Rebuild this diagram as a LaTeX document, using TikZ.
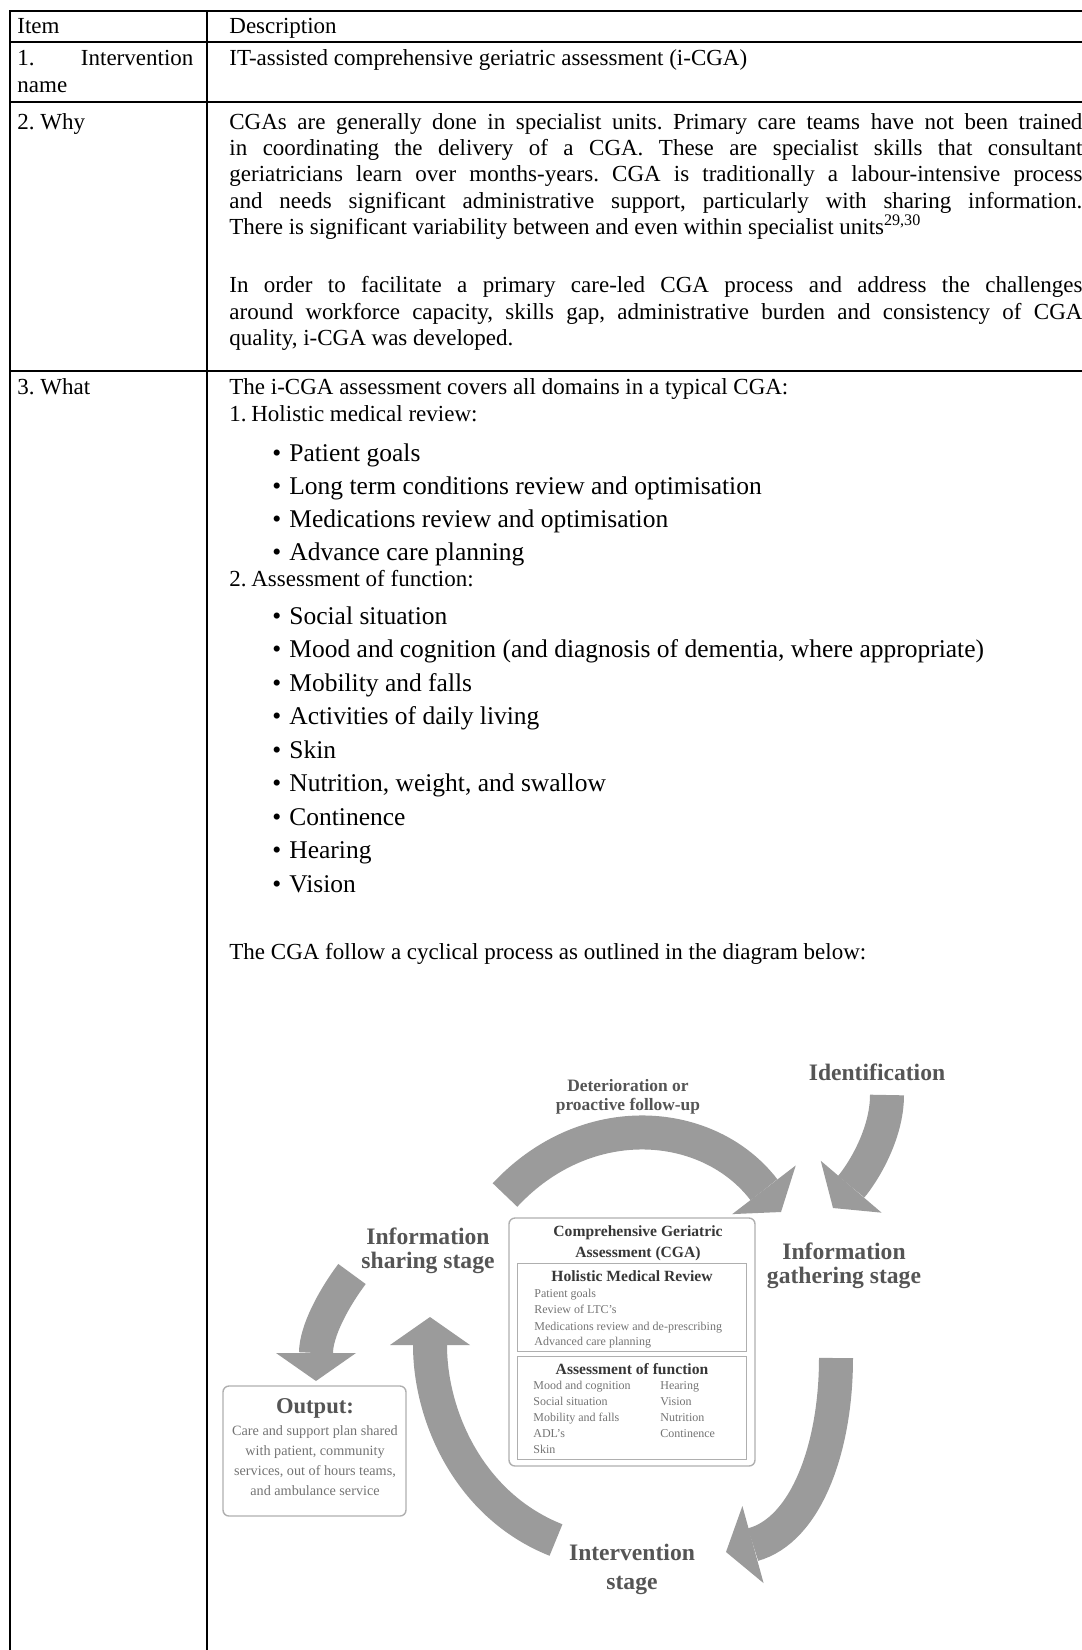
\documentclass[tikz,border=0pt]{standalone}
\usepackage{fontspec}
\setmainfont{Liberation Serif}
\usetikzlibrary{arrows.meta}
\frenchspacing
\definecolor{ArrowGray}{RGB}{155,155,155}
\definecolor{LabelGray}{RGB}{85,85,85}
\definecolor{TitleGray}{RGB}{55,55,55}
\definecolor{ItemGray}{RGB}{115,115,115}
\definecolor{BoxGray}{RGB}{175,175,175}

\tikzset{
  rule/.style={line width=1.1pt, black, line cap=rect},
  cell/.style={anchor=base west, inner sep=0pt, font=\fontsize{11.5}{13.2}\selectfont},
  bulletcell/.style={anchor=base west, inner sep=0pt, font=\fontsize{12.75}{14}\selectfont},
  stage/.style={align=center, inner sep=0pt, text=LabelGray, font=\fontsize{11.8}{12.2}\selectfont\bfseries},
  smallstage/.style={align=center, inner sep=0pt, text=LabelGray, font=\fontsize{8.7}{9.5}\selectfont\bfseries},
  panel/.style={draw=BoxGray, line width=0.7pt, rounded corners=3pt, inner sep=0pt},
  subpanel/.style={draw=BoxGray, line width=0.5pt, inner sep=0pt},
  paneltitle/.style={align=center, inner sep=0pt, text=TitleGray, font=\fontsize{7.8}{10.5}\selectfont\bfseries},
  panelitem/.style={anchor=base west, inner sep=0pt, text=ItemGray, font=\fontsize{6}{8}\selectfont},
  outtitle/.style={inner sep=0pt, text=LabelGray, font=\fontsize{11.3}{12}\selectfont\bfseries},
  outtext/.style={align=center, inner sep=0pt, text=ItemGray, font=\fontsize{7.1}{10}\selectfont},
  cyclearrow/.style={draw=ArrowGray, line width=17pt,
    -{Triangle[length=14pt 0 0, width=40pt 0 0, line width=0pt]}},
}

\begin{document}
\begin{tikzpicture}[x=0.5pt, y=-0.5pt]
    \useasboundingbox (0,0) rectangle (1082,1650);

    % Table rules
    \foreach \ry in {11,42,102,371}
      \draw[rule] (10,\ry) -- (1082,\ry);
    \draw[rule] (10,11) -- (10,1650);
    \draw[rule] (207,11) -- (207,1650);

    % Header row
    \node[cell] (itemhead) at (17,33) {Item};
    \node[cell] (deschead) at (229,33) {Description};

    % Row 1
    \node[cell] (rowonea) at (17,65) {\makebox[88pt][s]{1. Intervention}};
    \node[cell] (rowoneb) at (17,92) {name};
    \node[cell] (rowonedesc) at (229,65) {IT-assisted comprehensive geriatric assessment (i-CGA)};

    % Row 2
    \node[cell] (rowtwo) at (17,129) {2. Why};
    \foreach \ly/\txt [count=\i] in {
        129/{CGAs are generally done in specialist units. Primary care teams have not been trained},
        155.4/{in coordinating the delivery of a CGA. These are specialist skills that consultant},
        181.8/{geriatricians learn over months-years. CGA is traditionally a labour-intensive process},
        208.2/{and needs significant administrative support, particularly with sharing information.},
        292.8/{In order to facilitate a primary care-led CGA process and address the challenges},
        319.2/{around workforce capacity, skills gap, administrative burden and consistency of CGA}}
      \node[cell] (why\i) at (229,\ly) {\makebox[426.5pt][s]{\txt}};
    \node[cell] (whyend) at (229,234.6) {There is significant variability between and even within specialist units\textsuperscript{29,30}};
    \node[cell] (whylast) at (229,345.6) {quality, i-CGA was developed.};

    % Row 3
    \node[cell] (rowthree) at (17,394) {3. What};
    \node[cell] (whatintro) at (229,394) {The i-CGA assessment covers all domains in a typical CGA:};
    \node[cell] (domainone) at (229,421) {\makebox[11pt][l]{1.}Holistic medical review:};
    \foreach \ly/\txt [count=\i] in {461/{Patient goals}, 494/{Long term conditions review and optimisation},
        527/{Medications review and optimisation}, 560/{Advance care planning}}
      \node[bulletcell] (medrev\i) at (272,\ly) {\makebox[8.5pt][l]{•}\txt};
    \node[cell] (domaintwo) at (229,586) {\makebox[11pt][l]{2.}Assessment of function:};
    \foreach \ly/\txt [count=\i] in {624/{Social situation},
        657.5/{Mood and cognition (and diagnosis of dementia, where appropriate)},
        691/{Mobility and falls}, 724.5/{Activities of daily living}, 758/{Skin},
        791.5/{Nutrition, weight, and swallow}, 825/{Continence}, 858.5/{Hearing}, 892/{Vision}}
      \node[bulletcell] (funct\i) at (272,\ly) {\makebox[8.5pt][l]{•}\txt};
    \node[cell] (cyclenote) at (229,959) {The CGA follow a cyclical process as outlined in the diagram below:};

    % Cycle labels
    \node[stage] (ident) at (877,1072) {Identification};
    \node[smallstage] (deter) at (628,1097) {Deterioration or\\proactive follow-up};
    \node[stage] (sharing) at (428,1251) {Information\\sharing stage};
    \node[stage] (gather) at (844,1266) {Information\\gathering stage};
    \node[stage, font=\fontsize{11.8}{14.5}\selectfont\bfseries] (interv) at (632,1569) {Intervention\\stage};

    % CGA panel
    \node[panel, minimum width=123pt, minimum height=124pt] (cga) at (632,1342) {};
    \node[paneltitle] (cgatitle) at (638,1243) {Comprehensive Geriatric\\Assessment (CGA)};
    \node[subpanel, minimum width=114.5pt, minimum height=44pt] (holistic) at (631.5,1307) {};
    \node[paneltitle] (holtitle) at (632,1276) {Holistic Medical Review};
    \foreach \ly/\txt [count=\i] in {1297/{Patient goals}, 1313/{Review of LTC’s},
        1330/{Medications review and de-prescribing}, 1345/{Advanced care planning}}
      \node[panelitem] (holitem\i) at (534,\ly) {\txt};
    \node[subpanel, minimum width=114.5pt, minimum height=51.5pt] (function) at (631.5,1407.5) {};
    \node[paneltitle] (funtitle) at (632,1369) {Assessment of function};
    \foreach \ly/\txt [count=\i] in {1389/{Mood and cognition}, 1405/{Social situation},
        1421/{Mobility and falls}, 1437/{ADL’s}, 1453/{Skin}}
      \node[panelitem] (funleft\i) at (533,\ly) {\txt};
    \foreach \ly/\txt [count=\i] in {1389/{Hearing}, 1405/{Vision}, 1421/{Nutrition}, 1437/{Continence}}
      \node[panelitem] (funright\i) at (660,\ly) {\txt};

    % Output panel
    \node[panel, minimum width=91.5pt, minimum height=65pt] (output) at (314.5,1451) {};
    \node[outtitle] (outhead) at (315,1408) {Output:};
    \node[outtext] (outbody) at (315,1461) {Care and support plan shared\\with patient, community\\services, out of hours teams,\\and ambulance service};

    % Cycle arrows
    \coordinate (detTail) at (505,1195);
    \coordinate (detTip) at (781,1212);
    \coordinate (idTail) at (887,1095);
    \coordinate (idTip) at (833,1208);
    \coordinate (gthTail) at (836,1358);
    \coordinate (intTip) at (726,1552);
    \coordinate (intTail) at (556,1540);
    \coordinate (shrTip) at (430,1317);
    \coordinate (shrTail) at (352,1274);
    \coordinate (outTip) at (316,1381);
    \draw[cyclearrow] (detTail) .. controls +(82,-88) and +(-72,-94) .. (detTip);
    \draw[cyclearrow] (idTail) .. controls +(0,40) and +(29,-34) .. (idTip);
    \draw[cyclearrow] (gthTail) .. controls +(0,90) and +(80,-22) .. (intTip);
    \draw[cyclearrow] (intTail) .. controls +(-86,-34) and +(0,100) .. (shrTip);
    \draw[cyclearrow] (shrTail) .. controls +(-18,24) and +(0,-50) .. (outTip);
\end{tikzpicture}
\end{document}
